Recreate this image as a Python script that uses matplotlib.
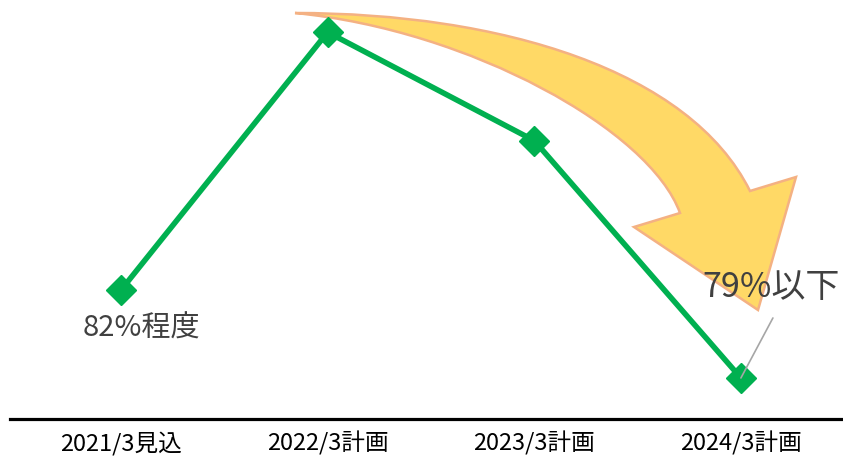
import matplotlib.pyplot as plt
from matplotlib.path import Path
from matplotlib.patches import PathPatch

plt.rcParams['font.family'] = ['Noto Sans CJK JP', 'DejaVu Sans']

# data
categories = ["2021/3見込", "2022/3計画", "2023/3計画", "2024/3計画"]
values = [82.0, 90.8, 87.1, 79.0]
first_label = "82%程度"
last_label = "79%以下"

W, H = 843, 461
fig = plt.figure(figsize=(W / 100, H / 100), dpi=100)
ax = fig.add_axes([10 / W, (H - 419) / H, 833 / W, 419 / H])

x = list(range(len(categories)))
ax.plot(x, values, color="#00B050", lw=4, marker="D", ms=15.5, zorder=3)

ax.set_xlim(-0.537, 3.494)
ax.set_ylim(77.6, 91.9)
ax.set_xticks(x)
ax.set_xticklabels(categories, fontsize=17, color="black")
ax.tick_params(axis="x", length=0, pad=9)
ax.set_yticks([])
for s in ["top", "left", "right"]:
    ax.spines[s].set_visible(False)
ax.spines["bottom"].set_linewidth(2.3)
ax.spines["bottom"].set_color("black")

# value labels
ax.annotate(first_label, xy=(0, values[0]), xytext=(20, -39), textcoords="offset pixels",
            ha="center", va="center", fontsize=21, color="#404040", zorder=6)
ax.annotate(last_label, xy=(3, values[-1]), xytext=(30, 90), textcoords="offset pixels",
            ha="center", va="center", fontsize=24.5, color="#404040", zorder=6)
ax.annotate("", xy=(3, values[-1]), xytext=(32, 60), textcoords="offset pixels",
            arrowprops=dict(arrowstyle="-", color="#A6A6A6", lw=1.2, shrinkA=0, shrinkB=0),
            zorder=6)

# curved decorative arrow (pixel coords, y from top)
pts = [
    ((295, 13), Path.MOVETO),
    ((500, 13), Path.CURVE4), ((690, 70), Path.CURVE4), ((750, 191), Path.CURVE4),
    ((796, 177), Path.LINETO),
    ((758, 310), Path.LINETO),
    ((634, 227), Path.LINETO),
    ((680, 213), Path.LINETO),
    ((650, 130), Path.CURVE4), ((470, 30), Path.CURVE4), ((295, 13), Path.CURVE4),
    ((295, 13), Path.CLOSEPOLY),
]
verts = [(px / W, 1 - py / H) for (px, py), _ in pts]
codes = [c for _, c in pts]
arrow = PathPatch(Path(verts, codes), transform=fig.transFigure, facecolor="#FFD966",
                  edgecolor="#F4B183", lw=1.8, zorder=1, joinstyle="miter", clip_on=False)
ax.add_patch(arrow)

fig.savefig("out.png", dpi=100)
